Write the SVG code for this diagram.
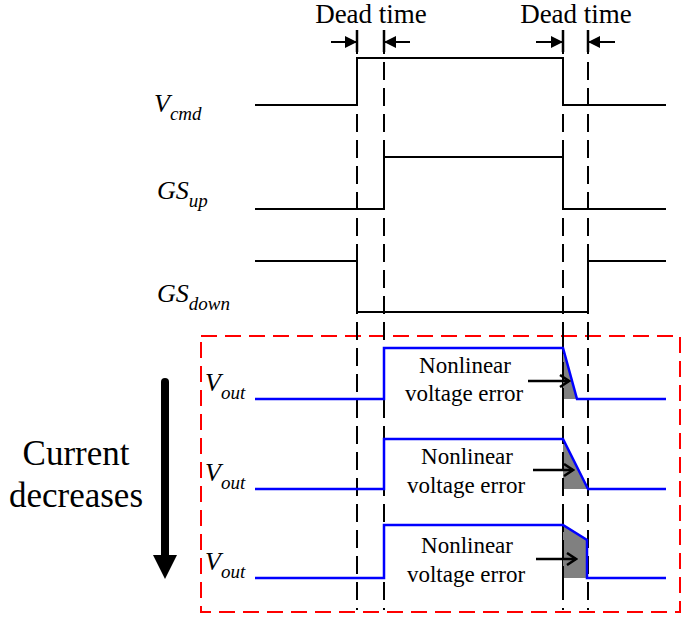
<svg xmlns="http://www.w3.org/2000/svg" width="684" height="620" viewBox="0 0 684 620">
<style>
text{font-family:"Liberation Serif","Times New Roman",serif;fill:#000}
.lbl{font-size:26px}
.dt{font-size:27px;text-anchor:middle}
.it{font-style:italic}
.sub{font-size:19px}
.wave{fill:none;stroke:#000;stroke-width:2}
.vout{fill:none;stroke:#0000ff;stroke-width:2.5}
.dash{stroke:#000;stroke-width:2;stroke-dasharray:18 8;fill:none}
.mark{stroke:#000;stroke-width:2.5}
.nl{font-size:23px;text-anchor:middle}
.err{fill:#808080;stroke:none}
.arr{stroke:#000;stroke-width:2.5;fill:none}
.cd{font-size:35px;text-anchor:middle}
</style>
<defs>
<marker id="tri" markerWidth="12" markerHeight="12" refX="11" refY="6" orient="auto" markerUnits="userSpaceOnUse"><path d="M0,0 L12,6 L0,12 z" fill="#000"/></marker>
<marker id="open" markerWidth="12" markerHeight="14" refX="10" refY="7" orient="auto" markerUnits="userSpaceOnUse"><path d="M1,1 L10,7 L1,13" fill="none" stroke="#000" stroke-width="2.5"/></marker>
</defs>
<g id="box"><rect x="201" y="336" width="479" height="276" fill="none" stroke="#ff0000" stroke-width="2" stroke-dasharray="16 8"/></g>
<g id="connectors">
<line class="dash" x1="357" y1="36" x2="357" y2="610"/>
<line class="dash" x1="384" y1="36" x2="384" y2="610"/>
<line class="dash" x1="563" y1="36" x2="563" y2="610"/>
<line class="dash" x1="588" y1="36" x2="588" y2="610"/>
<line class="mark" x1="357" y1="30" x2="357" y2="52"/>
<line class="mark" x1="384" y1="30" x2="384" y2="52"/>
<line class="mark" x1="563" y1="30" x2="563" y2="52"/>
<line class="mark" x1="588" y1="30" x2="588" y2="52"/>
<line x1="331" y1="42" x2="356" y2="42" stroke="#000" stroke-width="2" marker-end="url(#tri)"/>
<line x1="410" y1="42" x2="385" y2="42" stroke="#000" stroke-width="2" marker-end="url(#tri)"/>
<line x1="536" y1="42" x2="562" y2="42" stroke="#000" stroke-width="2" marker-end="url(#tri)"/>
<line x1="615" y1="42" x2="589" y2="42" stroke="#000" stroke-width="2" marker-end="url(#tri)"/>
</g>
<g id="deadtime1"><text class="dt" x="371" y="23">Dead time</text></g>
<g id="deadtime2"><text class="dt" x="576" y="23">Dead time</text></g>
<g id="vcmd">
<text class="lbl it" x="154" y="112">V<tspan class="sub" dy="8">cmd</tspan></text>
<polyline class="wave" points="255,105 357,105 357,58 563,58 563,105 666,105"/>
</g>
<g id="gsup">
<text class="lbl it" x="157" y="199">GS<tspan class="sub" dy="8">up</tspan></text>
<polyline class="wave" points="255,209 384,209 384,157 563,157 563,209 666,209"/>
</g>
<g id="gsdown">
<text class="lbl it" x="157" y="302">GS<tspan class="sub" dy="8">down</tspan></text>
<polyline class="wave" points="255,261 357,261 357,312 588,312 588,261 666,261"/>
</g>
<g id="vout1">
<polygon class="err" points="563,350 577,399 563,399"/>
<line class="dash" x1="563" y1="336" x2="563" y2="410"/>
<text class="lbl it" x="205" y="391">V<tspan class="sub" dy="8">out</tspan></text>
<polyline class="vout" points="255,399 384,399 384,348 563,348 577,399 666,399"/>
<text class="nl" x="465" y="373">Nonlinear</text>
<text class="nl" x="464" y="401">voltage error</text>
<line class="arr" x1="528" y1="381" x2="569" y2="381" marker-end="url(#open)"/>
</g>
<g id="vout2">
<polygon class="err" points="563,439 588,489 563,489"/>
<line class="dash" x1="563" y1="426" x2="563" y2="500"/>
<text class="lbl it" x="205" y="481">V<tspan class="sub" dy="8">out</tspan></text>
<polyline class="vout" points="255,489 384,489 384,439 563,439 588,489 666,489"/>
<text class="nl" x="467" y="464">Nonlinear</text>
<text class="nl" x="466" y="493">voltage error</text>
<line class="arr" x1="533" y1="470" x2="573" y2="470" marker-end="url(#open)"/>
</g>
<g id="vout3">
<polygon class="err" points="563,525 587,540 587,578 563,578"/>
<line class="dash" x1="563" y1="514" x2="563" y2="590"/>
<text class="lbl it" x="205" y="570">V<tspan class="sub" dy="8">out</tspan></text>
<polyline class="vout" points="255,578 384,578 384,525 563,525 587,540 587,578 666,578"/>
<text class="nl" x="467" y="553">Nonlinear</text>
<text class="nl" x="466" y="582">voltage error</text>
<line class="arr" x1="536" y1="559" x2="576" y2="559" marker-end="url(#open)"/>
</g>
<g id="current">
<text class="cd" x="76" y="465">Current</text>
<text class="cd" x="76" y="507">decreases</text>
<line x1="165" y1="382" x2="165" y2="558" stroke="#000" stroke-width="8" stroke-linecap="round"/>
<polygon points="153,555 177,555 165,579" fill="#000"/>
</g>
</svg>
